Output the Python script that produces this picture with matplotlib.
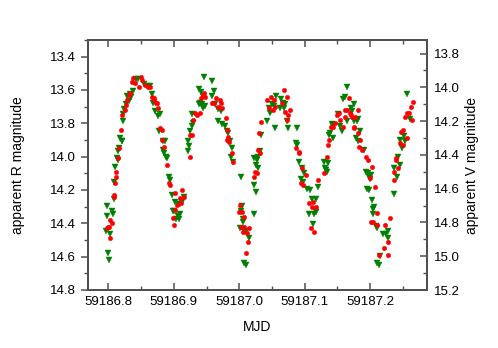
import matplotlib
matplotlib.use("Agg")
import matplotlib.pyplot as plt
from matplotlib.ticker import MultipleLocator, FormatStrFormatter

plt.rcParams['font.family'] = ['Liberation Sans', 'DejaVu Sans']

MJD0 = 59186.0

# V band (green triangles): time offsets from MJD0 and magnitudes
v_frac = [0.800, 0.801, 0.798, 0.805, 0.807, 0.798, 0.803, 0.796, 0.809, 0.808, 0.810, 0.813, 0.814, 0.815, 0.816,
          0.818, 0.820, 0.821, 0.823, 0.823, 0.824, 0.827, 0.831, 0.835, 0.828, 0.833, 0.837, 0.842, 0.845, 0.855,
          0.860, 0.864, 0.866, 0.868, 0.871, 0.876, 0.879, 0.878, 0.884, 0.887, 0.883, 0.885, 0.888, 0.890, 0.892,
          0.894,
          0.897, 0.902, 0.906, 0.910, 0.912, 0.915, 0.900, 0.898, 0.904, 0.906, 0.909, 0.908,
          0.921, 0.923, 0.922, 0.925, 0.928, 0.929, 0.928, 0.938, 0.940, 0.943, 0.945, 0.938, 0.941, 0.944, 0.946,
          0.959, 0.962, 0.958, 0.948, 0.963, 0.968, 0.972, 0.967, 0.973, 0.978, 0.981, 0.983, 0.986, 0.989, 0.988,
          0.991, 1.003,
          1.004, 1.003, 1.005, 1.001, 1.010, 1.015, 1.008, 1.010, 1.022, 1.006, 1.006,
          1.026, 1.023, 1.023, 1.027, 1.029, 1.025, 1.028, 1.032, 1.033, 1.043, 1.045, 1.047, 1.050, 1.053, 1.056,
          1.064, 1.067, 1.069, 1.070, 1.073, 1.075, 1.055, 1.088, 1.063,
          1.087, 1.089, 1.092, 1.096, 1.099, 1.094, 1.097, 1.103, 1.108, 1.120, 1.111, 1.118, 1.107, 1.115, 1.113,
          1.117,
          1.130, 1.132, 1.134, 1.131, 1.135, 1.137, 1.139, 1.144, 1.142, 1.144, 1.154, 1.157, 1.151, 1.158, 1.161,
          1.165, 1.172, 1.171, 1.175, 1.176, 1.180, 1.182, 1.165,
          1.178, 1.185, 1.181, 1.191, 1.193, 1.197, 1.199, 1.200, 1.195, 1.199, 1.203, 1.205, 1.205, 1.201,
          1.206, 1.209, 1.211, 1.220, 1.225, 1.227, 1.228, 1.215, 1.210, 1.214,
          1.236, 1.241, 1.237, 1.246, 1.242, 1.245, 1.249, 1.252, 1.254, 1.257, 1.261]
v_mag = [14.98, 15.02, 14.70, 14.73, 14.75, 14.76, 14.87, 14.85, 14.56, 14.66, 14.47, 14.42, 14.43, 14.38, 14.36,
         14.30, 14.32, 14.32, 14.20, 14.16, 14.13, 14.10, 14.08, 14.06, 14.05, 14.04, 14.02, 13.95, 13.95, 13.98,
         13.99, 13.99, 14.04, 14.09, 14.14, 14.17, 14.16, 14.26, 14.32, 14.32, 14.37, 14.39, 14.41, 14.42, 14.53,
         14.55,
         14.64, 14.68, 14.69, 14.69, 14.68, 14.65, 14.73, 14.73, 14.78, 14.76, 14.75, 14.78,
         14.38, 14.35, 14.32, 14.26, 14.23, 14.21, 14.16, 14.10, 14.09, 14.10, 14.12, 14.01, 14.03, 14.05, 13.94,
         13.96, 14.02, 14.05, 14.11, 14.10, 14.13, 14.14, 14.20, 14.22, 14.23, 14.26, 14.27, 14.32, 14.36, 14.41,
         14.44, 14.53,
         14.70, 14.73, 14.78, 14.83, 14.85, 14.89, 15.04, 15.05, 14.75, 14.80, 14.84,
         14.62, 14.58, 14.42, 14.43, 14.41, 14.46, 14.48, 14.38, 14.28, 14.20, 14.12, 14.15, 14.10, 14.11, 14.05,
         14.07, 14.09, 14.12, 14.10, 14.20, 14.24, 14.24, 14.24, 14.12,
         14.33, 14.34, 14.44, 14.48, 14.51, 14.54, 14.56, 14.60, 14.61, 14.59, 14.66, 14.66, 14.75, 14.75, 14.81,
         14.74,
         14.44, 14.49, 14.50, 14.48, 14.45, 14.28, 14.27, 14.30, 14.22, 14.23, 14.23, 14.26, 14.16, 14.07, 14.06,
         14.00, 14.14, 14.12, 14.10, 14.20, 14.20, 14.19, 14.20,
         14.30, 14.26, 14.32, 14.37, 14.50, 14.51, 14.53, 14.54, 14.60, 14.61, 14.67, 14.72, 14.75, 14.52,
         14.71, 14.82, 14.83, 14.87, 14.87, 14.85, 14.89, 15.00, 15.04, 15.05,
         14.63, 14.53, 14.48, 14.46, 14.41, 14.31, 14.36, 14.29, 14.32, 14.04, 14.19]

# R band (red circles)
r_frac = [0.802, 0.799, 0.801, 0.803, 0.806, 0.798, 0.808, 0.809, 0.810, 0.812, 0.811, 0.815, 0.816, 0.819, 0.821,
          0.826, 0.827, 0.829, 0.831, 0.833, 0.836, 0.838, 0.841, 0.846, 0.850, 0.852, 0.856, 0.861, 0.866, 0.869,
          0.864, 0.870, 0.873, 0.875, 0.876, 0.879, 0.882, 0.882, 0.885, 0.890, 0.893, 0.894,
          0.902, 0.912, 0.915, 0.910, 0.905, 0.911, 0.902, 0.899, 0.900,
          0.924, 0.925, 0.928, 0.930, 0.933, 0.936, 0.940, 0.941, 0.944, 0.946, 0.948, 0.958, 0.961, 0.964, 0.971,
          0.972, 0.967, 0.973, 0.980, 0.981, 0.983, 0.981, 0.985, 0.989, 0.991,
          1.001, 1.004, 1.007, 1.008, 1.015, 1.012, 1.014, 1.011, 1.000, 1.003, 1.005,
          1.033, 1.030, 1.028, 1.032, 1.024, 1.027, 1.022,
          1.043, 1.048, 1.053, 1.046, 1.051, 1.055, 1.069, 1.073, 1.065, 1.070, 1.077, 1.074, 1.073,
          1.087, 1.091, 1.092, 1.096, 1.102, 1.094, 1.097, 1.120, 1.113, 1.107, 1.118, 1.111, 1.109, 1.115,
          1.130, 1.134, 1.135, 1.137, 1.141, 1.144, 1.146, 1.149, 1.152, 1.154, 1.159, 1.162, 1.165, 1.167, 1.161,
          1.170, 1.171, 1.172, 1.177, 1.182, 1.175, 1.176,
          1.181, 1.185, 1.183, 1.187, 1.193, 1.197, 1.203, 1.200, 1.207, 1.205,
          1.210, 1.202, 1.210, 1.223, 1.231, 1.228, 1.222, 1.213, 1.227,
          1.236, 1.237, 1.240, 1.242, 1.239, 1.245, 1.247, 1.250, 1.251, 1.257, 1.254, 1.256, 1.260, 1.264, 1.262,
          1.265]
r_mag = [14.49, 14.42, 14.42, 14.38, 14.40, 14.43, 14.23, 14.24, 14.16, 14.12, 14.09, 14.01, 13.95, 13.84, 13.75,
         13.72, 13.69, 13.66, 13.63, 13.62, 13.55, 13.53, 13.56, 13.58, 13.52, 13.54, 13.57, 13.58, 13.64, 13.66,
         13.58, 13.65, 13.68, 13.68, 13.71, 13.83, 13.84, 13.90, 13.94, 14.05, 14.16, 14.17,
         14.22, 14.20, 14.24, 14.25, 14.29, 14.28, 14.32, 14.37, 14.41,
         14.00, 13.87, 13.87, 13.78, 13.74, 13.75, 13.74, 13.65, 13.63, 13.62, 13.64, 13.68, 13.68, 13.65, 13.66,
         13.68, 13.70, 13.71, 13.77, 13.84, 13.88, 13.90, 13.91, 13.98, 14.03,
         14.29, 14.33, 14.36, 14.42, 14.43, 14.46, 14.51, 14.58, 14.33, 14.42, 14.45,
         13.79, 13.86, 13.96, 13.98, 14.09, 14.10, 14.12,
         13.66, 13.64, 13.66, 13.71, 13.72, 13.70, 13.60, 13.64, 13.68, 13.73, 13.72, 13.75, 13.78,
         13.95, 13.97, 13.98, 14.07, 14.11, 14.16, 14.17, 14.14, 14.27, 14.28, 14.30, 14.30, 14.43, 14.45,
         14.10, 14.00, 13.93, 13.90, 13.82, 13.82, 13.80, 13.75, 13.74, 13.78, 13.82, 13.72, 13.72, 13.65, 13.76,
         13.74, 13.75, 13.76, 13.76, 13.72, 13.82, 13.83,
         13.86, 13.90, 13.94, 13.96, 14.00, 14.02, 14.06, 14.13, 14.18, 14.39,
         14.34, 14.39, 14.41, 14.41, 14.37, 14.51, 14.55, 14.59, 14.59,
         14.14, 14.09, 14.02, 14.07, 14.01, 13.92, 13.85, 13.84, 13.93, 13.89, 13.76, 13.74, 13.74, 13.78, 13.70,
         13.67]

x_ticks = [59186.8, 59186.9, 59187.0, 59187.1, 59187.2]

W, H = 498, 348
fig = plt.figure(figsize=(W / 100, H / 100), dpi=100)
ax = fig.add_axes([87.5 / W, 1 - 290 / H, (427 - 87.5) / W, 250 / H])
ax2 = ax.twinx()

r_t = [MJD0 + f for f in r_frac]
v_t = [MJD0 + f for f in v_frac]

ax2.plot(v_t, v_mag, linestyle='none', marker='v', color='#008000', markersize=3.8,
         markeredgewidth=0.3, zorder=2)
ax.plot(r_t, r_mag, linestyle='none', marker='o', color='#ff0000', markersize=3.2,
        markeredgewidth=0.3, zorder=3)
ax.set_zorder(ax2.get_zorder() + 1)
ax.patch.set_visible(False)

ax.set_xlim(59186.768, 59187.287)
ax.set_ylim(14.8, 13.3)
ax2.set_ylim(15.2, 13.72)

ax.set_xticks(x_ticks)
ax.xaxis.set_major_formatter(FormatStrFormatter('%.1f'))
ax.xaxis.set_minor_locator(MultipleLocator(0.05))
ax.yaxis.set_major_locator(MultipleLocator(0.2))
ax.yaxis.set_minor_locator(MultipleLocator(0.1))
ax.yaxis.set_major_formatter(FormatStrFormatter('%.1f'))
ax2.yaxis.set_major_locator(MultipleLocator(0.2))
ax2.yaxis.set_minor_locator(MultipleLocator(0.1))
ax2.yaxis.set_major_formatter(FormatStrFormatter('%.1f'))

fc = '#505050'
for a in (ax, ax2):
    for s in a.spines.values():
        s.set_color(fc)
        s.set_linewidth(1.4)

ax.tick_params(axis='x', which='both', direction='in', top=True, bottom=True, color=fc,
               labelsize=9.5, pad=4)
ax.tick_params(axis='x', which='major', length=5, width=1.1)
ax.tick_params(axis='x', which='minor', length=3, width=1.0)
ax.tick_params(axis='y', which='both', direction='out', color=fc, labelsize=9.5, right=False)
ax.tick_params(axis='y', which='major', length=5, width=1.1)
ax.tick_params(axis='y', which='minor', length=3, width=1.0)
ax2.tick_params(axis='y', which='both', direction='in', color=fc, labelsize=9.5, pad=5)
ax2.tick_params(axis='y', which='major', length=5, width=1.1)
ax2.tick_params(axis='y', which='minor', length=3, width=1.0)

ax.set_xlabel('MJD', fontsize=10, labelpad=9)
ax.set_ylabel('apparent R magnitude', fontsize=10, labelpad=18)
ax2.set_ylabel('apparent V magnitude', fontsize=10, labelpad=4)

fig.savefig('out.png', dpi=100)
